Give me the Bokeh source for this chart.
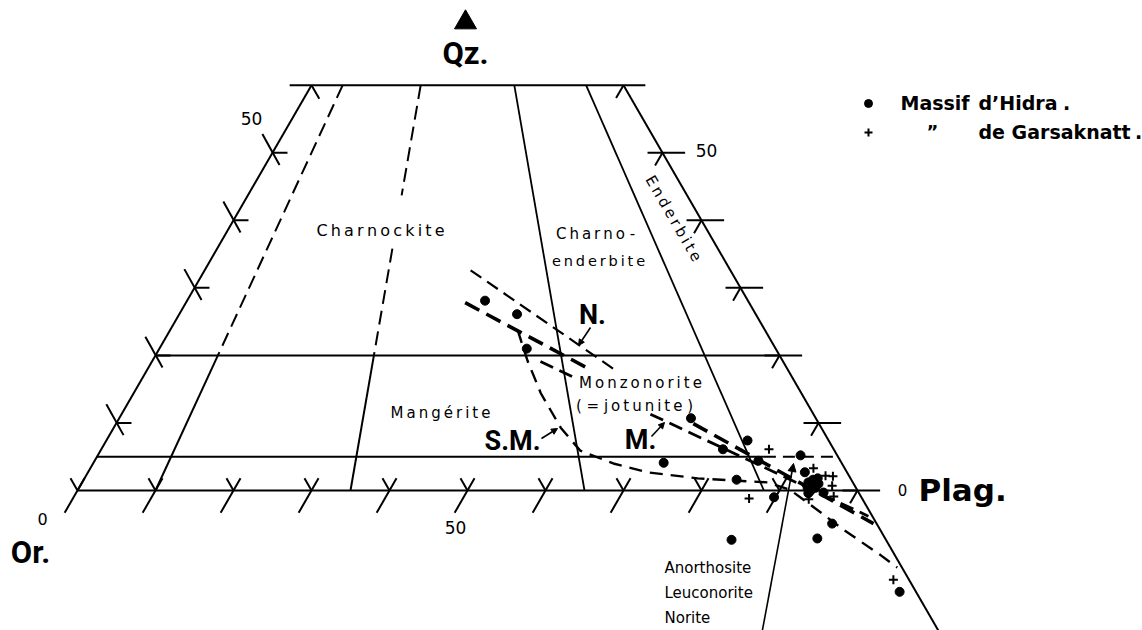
import math
from bokeh.plotting import figure
from bokeh.models import Range1d, Arrow, NormalHead
from bokeh.core.properties import value
from bokeh.embed import file_html
from bokeh.resources import INLINE

# ---------------- data (ternary: Qz %, Plag %, Or = 100 - Qz - Plag) ----------------
Q_TOP = 60
Q_LEVELS = [5, 20]
RATIO_LINES = [10, 35, 65, 88]          # 100*Plag/(Or+Plag)
Q_TICKS = [10, 20, 30, 40, 50]
RIGHT_TICKS = [0, 10, 20, 30, 40, 50]
BASE_TICKS = [0, 10, 20, 30, 40, 50, 60, 70, 80, 90]

hidra_qz = [28.1, 26.1, 21.0, 10.7, 7.4, 6.1, 4.4, 4.1, 1.6, 5.2, 2.7, -1.0,
            1.2, 1.8, 0.4, 0.4, -0.3, 0.0, 1.0, 1.6, -0.4, -4.9, -7.3, -7.1, -15.0]
hidra_pl = [38.2, 43.3, 47.1, 73.3, 82.2, 79.7, 85.1, 73.1, 83.7, 90.1, 91.9, 89.8,
            93.1, 94.0, 94.4, 93.4, 95.8, 94.0, 94.5, 93.5, 93.9, 99.2, 87.5, 98.4, 112.9]

gars_qz = [6.1, 3.3, 2.2, 2.1, 0.7, -1.2, -0.9, -1.3, -13.2]
gars_pl = [85.6, 92.7, 94.8, 95.8, 96.4, 86.7, 97.4, 94.4, 111.2]

trend_n_qz = [32.6, 17.5]
trend_n_pl = [34.1, 60.6]
trend_b1_qz = [27.8, 17.9]
trend_b1_pl = [35.8, 56.8]
trend_b2_qz = [9.9, -4.9]
trend_b2_pl = [74.0, 104.5]
trend_m1_qz = [19.1, 16.6]
trend_m1_pl = [49.8, 55.6]
trend_m2_qz = [11.3, -3.8]
trend_m2_pl = [67.8, 103.3]
trend_sm_qz = [23.7, 21.5, 19.2, 14.4, 9.3, 5.9, 4.0, 2.7, 1.8, 1.5, 1.2, 0.1, -2.4, -5.8, -9.6, -11.4]
trend_sm_pl = [44.6, 46.3, 48.1, 52.2, 57.3, 61.5, 66.7, 71.7, 78.6, 83.0, 87.9, 91.3, 95.5, 101.1, 107.8, 110.8]

# ---------------- helpers ----------------
H = math.sqrt(3) / 2
SCALE = 7.8          # px per unit
OX, OY = 77, 490     # page position of the Or corner
W, HT = 1142, 630


def xy(q, p):
    return p + q / 2.0, q * H


def xys(qs, ps):
    pts = [xy(q, p) for q, p in zip(qs, ps)]
    return [a for a, b in pts], [b for a, b in pts]


def ratio_pt(q, r):
    return xy(q, (100 - q) * r / 100.0)


def at(px, py):
    # page-pixel position of an annotation -> plot units
    return (px - OX) / SCALE, (OY - py) / SCALE


p = figure(width=W, height=HT,
           x_range=Range1d(-OX / SCALE, (W - OX) / SCALE),
           y_range=Range1d((OY - HT) / SCALE, OY / SCALE),
           output_backend="svg", toolbar_location=None, min_border=0)
p.axis.visible = False
p.grid.visible = False
p.outline_line_color = None
p.background_fill_color = "white"

BLK = "black"
LW = 2

# ---------------- frame ----------------
x0, y0 = xy(0, 0)
x1, y1 = xy(Q_TOP, 0)
p.line([x0, x1], [y0, y1], color=BLK, line_width=LW)
xa, ya = xy(Q_TOP, 100 - Q_TOP)
xb, yb = xy(-24, 124)
p.line([xa, xb], [ya, yb], color=BLK, line_width=LW)
p.line([x1 - 2.8, xa + 2.8], [y1, y1], color=BLK, line_width=LW)
xa, ya = xy(0, 0)
xb, yb = xy(0, 100)
p.line([xa, xb], [ya, yb], color=BLK, line_width=LW)

# horizontal Qz levels
for q in Q_LEVELS:
    xa, ya = xy(q, 0)
    xb, yb = xy(q, 100 - q)
    if q == 5:
        xm, ym = ratio_pt(q, 90)
        p.line([xa, xm], [ya, ym], color=BLK, line_width=LW)
        p.line([xm, xb], [ym, yb], color=BLK, line_width=LW, line_dash="12 7")
    else:
        p.line([xa, xb], [ya, yb], color=BLK, line_width=LW)

# ratio lines
for r in RATIO_LINES:
    if r == 10:
        a = ratio_pt(Q_TOP, r); b = ratio_pt(20, r); c = ratio_pt(0, r)
        p.line([a[0], b[0]], [a[1], b[1]], color=BLK, line_width=LW, line_dash="14 7")
        p.line([b[0], c[0]], [b[1], c[1]], color=BLK, line_width=LW)
    elif r == 35:
        a = ratio_pt(Q_TOP, r); a2 = ratio_pt(43.7, r)
        b1 = ratio_pt(35.8, r); b = ratio_pt(20, r); c = ratio_pt(0, r)
        p.line([a[0], a2[0]], [a[1], a2[1]], color=BLK, line_width=LW, line_dash="14 7")
        p.line([b1[0], b[0]], [b1[1], b[1]], color=BLK, line_width=LW, line_dash="14 7")
        p.line([b[0], c[0]], [b[1], c[1]], color=BLK, line_width=LW)
    else:
        a = ratio_pt(Q_TOP, r); c = ratio_pt(0, r)
        p.line([a[0], c[0]], [a[1], c[1]], color=BLK, line_width=1.8)

# ---------------- ticks ----------------
sx0, sy0, sx1, sy1 = [], [], [], []


def seg(a, b):
    sx0.append(a[0]); sy0.append(a[1]); sx1.append(b[0]); sy1.append(b[1])


for q in Q_TICKS:
    L = xy(q, 0)
    seg(L, (L[0] + 1.92, L[1]))
    seg((L[0] - 1.3, L[1] + 2.4), (L[0] + 0.9, L[1] - 1.56))
L = xy(Q_TOP, 0)
seg(L, (L[0] + 1.0, L[1] - 1.75))

for r in BASE_TICKS:
    B = xy(0, r)
    seg((B[0] - 1.65, B[1] - 2.86), (B[0] + 0.9, B[1] + 1.56))
    seg(B, (B[0] - 0.9, B[1] + 1.56))

for q in RIGHT_TICKS:
    R = xy(q, 100 - q)
    seg((R[0] - 1.92, R[1]), (R[0] + 2.9, R[1]))
    seg(R, (R[0] - 0.95, R[1] - 1.65))
R = xy(Q_TOP, 100 - Q_TOP)
seg(R, (R[0] - 0.95, R[1] - 1.65))

p.segment(sx0, sy0, sx1, sy1, color=BLK, line_width=LW)

# ---------------- trends ----------------
xs, ys = xys(trend_n_qz, trend_n_pl)
p.line(xs, ys, color=BLK, line_width=2.2, line_dash="13 7")
for qq, pp in ((trend_b1_qz, trend_b1_pl), (trend_b2_qz, trend_b2_pl)):
    xs, ys = xys(qq, pp)
    p.line(xs, ys, color=BLK, line_width=3.6, line_dash="16 8")
for qq, pp in ((trend_m1_qz, trend_m1_pl), (trend_m2_qz, trend_m2_pl)):
    xs, ys = xys(qq, pp)
    p.line(xs, ys, color=BLK, line_width=2.8, line_dash="14 7")
xs, ys = xys(trend_sm_qz, trend_sm_pl)
p.line(xs, ys, color=BLK, line_width=2.4, line_dash="13 8")

# ---------------- samples ----------------
xs, ys = xys(hidra_qz, hidra_pl)
p.scatter(xs, ys, marker="circle", size=9, fill_color=BLK, line_color=BLK)
xs, ys = xys(gars_qz, gars_pl)
p.scatter(xs, ys, marker="cross", size=9, line_color=BLK, line_width=2)

# ---------------- texts ----------------


def txt(px, py, s, size, font="DejaVu Sans", style="normal", align="center", angle=0.0):
    x, y = at(px, py)
    p.text([x], [y], text=[s], text_font=value(font), text_font_size=value(f"{size}px"),
           text_font_style=style, text_align=align, text_baseline="middle",
           text_color=BLK, angle=angle)


def sp(s):
    return "\u2009".join(s)


# apex marker
tx, ty = at(465, 22)
p.scatter([tx], [ty], marker="triangle", size=22, fill_color=BLK, line_color=BLK)

txt(465, 53, "Qz.", 31, font="Roboto", style="bold")
txt(30, 552, "Or.", 31, font="Roboto", style="bold")
txt(918, 489, "Plag.", 31, font="DejaVu Sans", style="bold", align="left")
txt(902, 489, "0", 15)
txt(42, 518, "0", 16)
txt(455, 527, "50", 17)
txt(251, 118, "50", 17)
txt(706, 150, "50", 17)

txt(380, 230, sp("Charnockite"), 16)
txt(595, 233, sp("Charno") + " -", 15)
txt(598, 260, sp("enderbite"), 14.5)
txt(673, 218, sp("Enderbite"), 15, angle=-math.pi / 3)
txt(440, 412, sp("Mangérite"), 15)
txt(640, 382, sp("Monzonorite"), 15)
txt(634, 405, "( = " + sp("jotunite") + " )", 15)

txt(592, 314, "N.", 27, font="Roboto", style="bold")
txt(512, 440, "S.M.", 27, font="Roboto", style="bold")
txt(640, 439, "M.", 27, font="Roboto", style="bold")

txt(664, 567, "Anorthosite", 15, align="left")
txt(664, 592, "Leuconorite", 15, align="left")
txt(664, 617, "Norite", 15, align="left")

# leaders
for (ax, ay, bx, by, hs) in ((590, 327, 578, 345, 6), (541, 438, 557, 428, 6),
                             (651, 436, 664, 422, 6), (760, 640, 793, 463, 8)):
    s = at(ax, ay); e = at(bx, by)
    p.add_layout(Arrow(end=NormalHead(size=hs, fill_color=BLK, line_color=BLK, line_width=1),
                       x_start=s[0], y_start=s[1], x_end=e[0], y_end=e[1],
                       line_color=BLK, line_width=1.6))

# legend
lx, ly = at(868, 103)
p.scatter([lx], [ly], marker="circle", size=8, fill_color=BLK, line_color=BLK)
lx, ly = at(868, 132)
p.scatter([lx], [ly], marker="cross", size=8, line_color=BLK, line_width=2)
txt(900, 102, "Massif", 19, style="bold", align="left")
txt(978, 102, "d\u2019Hidra", 19, style="bold", align="left")
txt(1066, 102, ".", 19, style="bold")
txt(932, 131, "\u201d", 18, style="bold")
txt(978, 131, "de Garsaknatt", 19, style="bold", align="left")
txt(1138, 131, ".", 19, style="bold")

open("out.html", "w").write(file_html(p, INLINE))
